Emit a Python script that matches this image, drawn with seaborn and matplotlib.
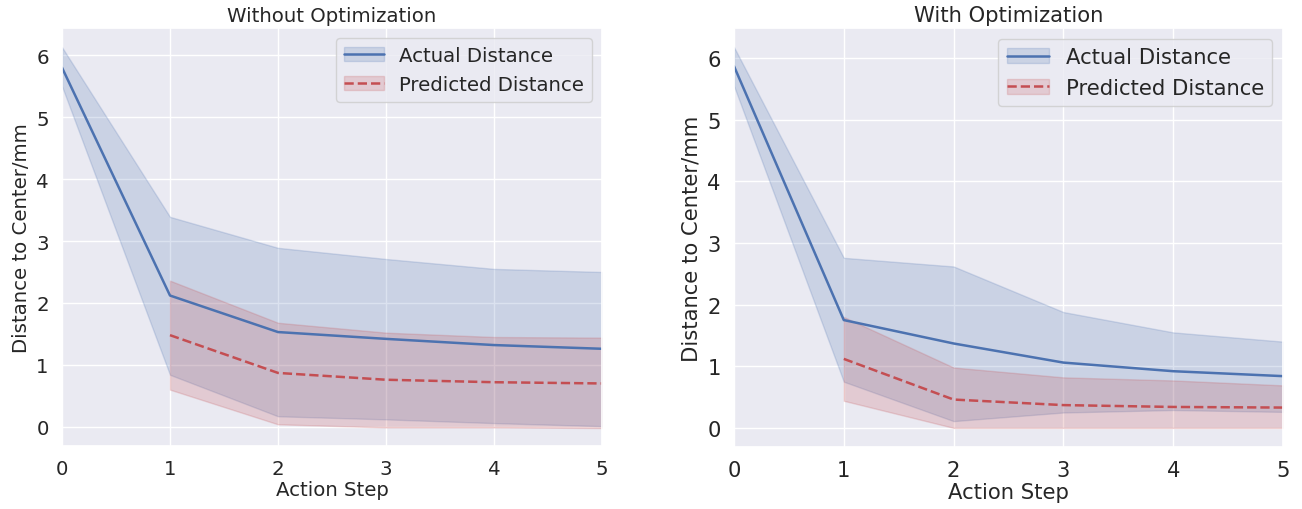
import numpy as np
import pandas as pd
import seaborn as sns
import matplotlib.pyplot as plt
from matplotlib.lines import Line2D
from matplotlib.patches import Patch

# шаги
steps_actual = [0, 1, 2, 3, 4, 5]
steps_pred = [1, 2, 3, 4, 5]

# без оптимизации
wo_actual_mean = [5.80, 2.12, 1.53, 1.42, 1.32, 1.26]
wo_actual_low = [5.50, 0.84, 0.17, 0.12, 0.06, 0.01]
wo_actual_high = [6.13, 3.39, 2.89, 2.71, 2.55, 2.50]
wo_pred_mean = [1.48, 0.87, 0.76, 0.72, 0.70]
wo_pred_low = [0.60, 0.04, -0.01, -0.01, -0.02]
wo_pred_high = [2.36, 1.68, 1.52, 1.45, 1.44]

# с оптимизацией
w_actual_mean = [5.87, 1.75, 1.37, 1.06, 0.92, 0.84]
w_actual_low = [5.55, 0.75, 0.11, 0.25, 0.29, 0.26]
w_actual_high = [6.18, 2.76, 2.62, 1.88, 1.55, 1.40]
w_pred_mean = [1.12, 0.46, 0.37, 0.34, 0.33]
w_pred_low = [0.44, 0.00, 0.00, 0.00, 0.00]
w_pred_high = [1.80, 0.98, 0.82, 0.77, 0.69]

titles = ['Without Optimization', 'With Optimization']

sns.set_theme(style='darkgrid')
blue, red = sns.color_palette('deep')[0], sns.color_palette('deep')[3]

fig = plt.figure(figsize=(13.02, 5.1), dpi=100)
ax1 = fig.add_axes([62 / 1302, 63 / 510, 540 / 1302, 418 / 510])
ax2 = fig.add_axes([734 / 1302, 62 / 510, 549 / 1302, 419 / 510])

panels = [
    (ax1, wo_actual_mean, wo_actual_low, wo_actual_high, wo_pred_mean, wo_pred_low, wo_pred_high, (-0.31, 6.44), 14.2),
    (ax2, w_actual_mean, w_actual_low, w_actual_high, w_pred_mean, w_pred_low, w_pred_high, (-0.31, 6.49), 15.2),
]

for (ax, am, al, ah, pm, pl, ph, ylim, fs), title in zip(panels, titles):
    sns.lineplot(x=steps_actual, y=am, ax=ax, color=blue, linewidth=1.8)
    ax.fill_between(steps_actual, al, ah, color=blue, alpha=0.2)
    sns.lineplot(x=steps_pred, y=pm, ax=ax, color=red, linewidth=1.8, linestyle='--')
    ax.fill_between(steps_pred, pl, ph, color=red, alpha=0.2)

    ax.set_xlim(0, 5)
    ax.set_ylim(*ylim)
    ax.set_xticks(range(6))
    ax.set_yticks(range(7))
    ax.tick_params(labelsize=fs)
    ax.set_xlabel('Action Step', fontsize=fs, labelpad=1)
    ax.set_ylabel('Distance to Center/mm', fontsize=fs)
    ax.set_title(title, fontsize=fs, pad=5)

    handles = [
        (Patch(color=blue, alpha=0.2), Line2D([], [], color=blue, linewidth=1.8)),
        (Patch(color=red, alpha=0.2), Line2D([], [], color=red, linewidth=1.8, linestyle='--')),
    ]
    ax.legend(handles, ['Actual Distance', 'Predicted Distance'], loc='upper right', fontsize=fs)

fig.savefig('out.png', dpi=100)
